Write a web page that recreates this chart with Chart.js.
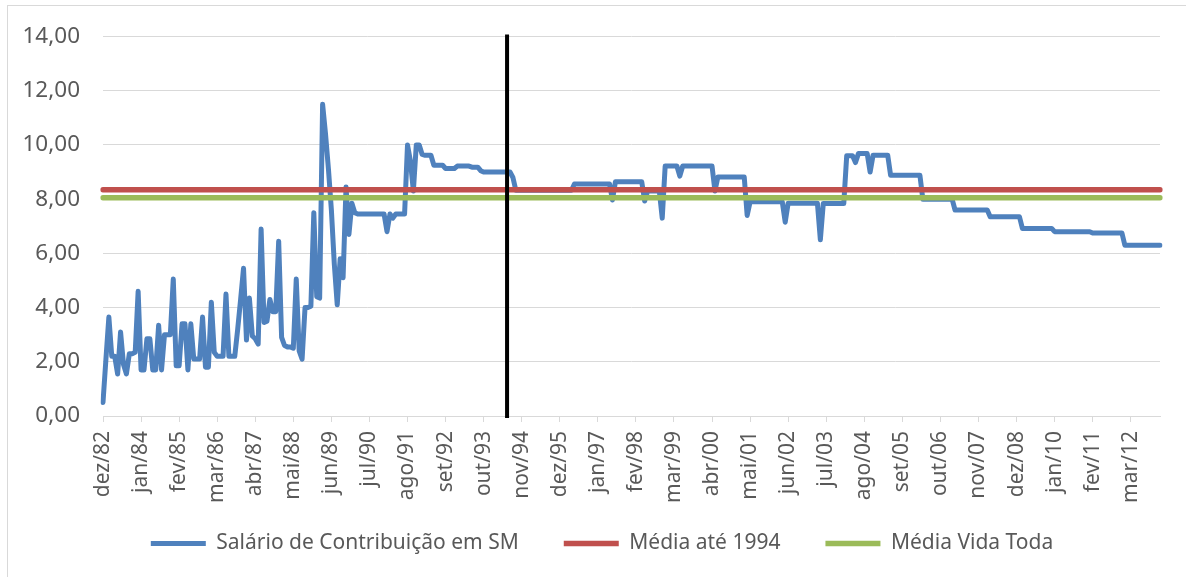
<!DOCTYPE html>
<html>
<head>
<meta charset="utf-8">
<script src="https://cdn.jsdelivr.net/npm/chart.js@4.4.0/dist/chart.umd.min.js"></script>
<style>
  html, body { margin: 0; padding: 0; background: #fff; }
  #wrap { position: relative; width: 1186px; height: 577px; overflow: hidden; }
  #frame { position: absolute; left: 7px; top: 5px; width: 1200px; height: 600px; border: 1px solid #d9d9d9; }
  canvas { position: absolute; left: 0; top: 0; }
</style>
</head>
<body>
<div id="wrap">
  <div id="frame"></div>
  <canvas id="chart" width="1186" height="577"></canvas>
</div>
<script>
// Salario de contribuicao em salarios minimos, mensal, dez/82 a jan/13
const salario = [
  0.5,                                                                  // dez/82
  2.1, 3.65, 2.2, 2.2, 1.55, 3.1, 1.9, 1.55, 2.3, 2.3, 2.35, 4.6,       // 1983
  1.7, 1.7, 2.85, 2.85, 1.7, 1.7, 3.35, 1.7, 3.0, 3.0, 3.0, 5.05,       // 1984
  1.85, 1.85, 3.4, 3.4, 1.7, 3.4, 2.1, 2.1, 2.1, 3.65, 1.8, 1.8,        // 1985
  4.2, 2.35, 2.2, 2.2, 2.2, 4.5, 2.2, 2.2, 2.2, 3.2, 4.3, 5.45,         // 1986
  2.8, 4.35, 2.95, 2.85, 2.65, 6.9, 3.45, 3.5, 4.3, 3.85, 3.85, 6.45,   // 1987
  2.9, 2.6, 2.55, 2.55, 2.5, 5.05, 2.4, 2.1, 4.0, 4.0, 4.05, 7.5,       // 1988
  4.4, 4.35, 11.5, 10.4, 9.1, 7.6, 5.6, 4.1, 5.8, 5.1, 8.45, 6.7,       // 1989
  7.85, 7.5, 7.45, 7.45, 7.45, 7.45, 7.45, 7.45, 7.45, 7.45, 7.45, 7.45, // 1990
  6.8, 7.45, 7.3, 7.45, 7.45, 7.45, 7.45, 10.0, 9.4, 8.3, 10.0, 10.0,   // 1991
  9.65, 9.62, 9.62, 9.62, 9.25, 9.25, 9.25, 9.25, 9.13, 9.13, 9.13, 9.13, // 1992
  9.22, 9.22, 9.22, 9.22, 9.22, 9.18, 9.18, 9.18, 9.05, 9.0, 9.0, 9.0,  // 1993
  9.0, 9.0, 9.0, 9.0, 9.0, 9.0, 9.0, 8.8, 8.33, 8.33, 8.33, 8.33,       // 1994
  8.33, 8.33, 8.33, 8.33, 8.33, 8.33, 8.33, 8.33, 8.33, 8.33, 8.33, 8.33, // 1995
  8.33, 8.33, 8.33, 8.33, 8.56, 8.56, 8.56, 8.56, 8.56, 8.56, 8.56, 8.56, // 1996
  8.56, 8.56, 8.56, 8.56, 8.56, 7.97, 8.64, 8.64, 8.64, 8.64, 8.64, 8.64, // 1997
  8.64, 8.64, 8.64, 8.64, 7.93, 8.3, 8.3, 8.3, 8.3, 8.3, 7.3, 9.22,     // 1998
  9.22, 9.22, 9.22, 9.22, 8.85, 9.22, 9.22, 9.22, 9.22, 9.22, 9.22, 9.22, // 1999
  9.22, 9.22, 9.22, 9.22, 8.3, 8.82, 8.82, 8.82, 8.82, 8.82, 8.82, 8.82, // 2000
  8.82, 8.82, 8.82, 7.4, 7.9, 7.9, 7.9, 7.9, 7.9, 7.9, 7.9, 7.9,        // 2001
  7.9, 7.9, 7.9, 7.9, 7.15, 7.85, 7.85, 7.85, 7.85, 7.85, 7.85, 7.85,   // 2002
  7.85, 7.85, 7.85, 7.85, 6.5, 7.84, 7.84, 7.84, 7.84, 7.84, 7.84, 7.84, // 2003
  7.84, 9.6, 9.6, 9.6, 9.35, 9.68, 9.68, 9.68, 9.68, 9.0, 9.62, 9.62,   // 2004
  9.62, 9.62, 9.62, 9.62, 8.88, 8.88, 8.88, 8.88, 8.88, 8.88, 8.88, 8.88, // 2005
  8.88, 8.88, 8.88, 8.0, 8.0, 8.0, 8.0, 8.0, 8.0, 8.0, 8.0, 8.0,        // 2006
  8.0, 8.0, 7.6, 7.6, 7.6, 7.6, 7.6, 7.6, 7.6, 7.6, 7.6, 7.6,           // 2007
  7.6, 7.6, 7.35, 7.35, 7.35, 7.35, 7.35, 7.35, 7.35, 7.35, 7.35, 7.35, // 2008
  7.35, 6.92, 6.92, 6.92, 6.92, 6.92, 6.92, 6.92, 6.92, 6.92, 6.92, 6.92, // 2009
  6.8, 6.8, 6.8, 6.8, 6.8, 6.8, 6.8, 6.8, 6.8, 6.8, 6.8, 6.8,           // 2010
  6.8, 6.75, 6.75, 6.75, 6.75, 6.75, 6.75, 6.75, 6.75, 6.75, 6.75, 6.75, // 2011
  6.3, 6.3, 6.3, 6.3, 6.3, 6.3, 6.3, 6.3, 6.3, 6.3, 6.3, 6.3,           // 2012
  6.3                                                                   // jan/13
];

const mediaAte1994 = 8.35;
const mediaVidaToda = 8.05;

// rotulos que aparecem no eixo x (a cada 13 meses)
const tickLabels = [
  "dez/82", "jan/84", "fev/85", "mar/86", "abr/87", "mai/88", "jun/89",
  "jul/90", "ago/91", "set/92", "out/93", "nov/94", "dez/95", "jan/97",
  "fev/98", "mar/99", "abr/00", "mai/01", "jun/02", "jul/03", "ago/04",
  "set/05", "out/06", "nov/07", "dez/08", "jan/10", "fev/11", "mar/12"
];

// mes do corte (linha vertical preta)
const marcoPlano = "jun/94";

const meses = ["jan", "fev", "mar", "abr", "mai", "jun", "jul", "ago", "set", "out", "nov", "dez"];
const labels = salario.map((v, k) => {
  const m = (11 + k) % 12;
  const y = (82 + Math.floor((11 + k) / 12)) % 100;
  return meses[m] + "/" + String(y).padStart(2, "0");
});
const primeiro = labels[0];
const ultimo = labels[labels.length - 1];

const FONT = "'Noto Sans', 'DejaVu Sans', sans-serif";
const GREY_TEXT = "#595959";
const GRID = "#d9d9d9";

// Draws the black vertical marker line
const marcoPlugin = {
  id: "marco",
  afterDatasetsDraw(chart) {
    const { ctx, chartArea, scales } = chart;
    const px = scales.x.getPixelForValue(labels.indexOf(marcoPlano));
    ctx.save();
    ctx.strokeStyle = "#000";
    ctx.lineWidth = 4;
    ctx.beginPath();
    ctx.moveTo(px, chartArea.top - 2);
    ctx.lineTo(px, chartArea.bottom + 2);
    ctx.stroke();
    ctx.restore();
  }
};

// tick labels are wider than the scale boxes here, so don't clip them
const noClipPlugin = {
  id: "noClip",
  beforeDraw(chart) {
    Object.values(chart.scales).forEach(s => { s._computeLabelArea = () => undefined; });
  }
};

new Chart(document.getElementById("chart"), {
  type: "line",
  data: {
    labels,
    datasets: [
      {
        label: "Salário de Contribuição em SM",
        data: salario,
        borderColor: "#4f81bd",
        backgroundColor: "#4f81bd",
        borderWidth: 5,
        pointRadius: 0,
        borderCapStyle: "round",
        borderJoinStyle: "round",
        order: 3
      },
      {
        label: "Média até 1994",
        data: [{ x: primeiro, y: mediaAte1994 }, { x: ultimo, y: mediaAte1994 }],
        borderColor: "#c0504d",
        backgroundColor: "#c0504d",
        borderWidth: 5.5,
        pointRadius: 0,
        borderCapStyle: "round",
        order: 2
      },
      {
        label: "Média Vida Toda",
        data: [{ x: primeiro, y: mediaVidaToda }, { x: ultimo, y: mediaVidaToda }],
        borderColor: "#9bbb59",
        backgroundColor: "#9bbb59",
        borderWidth: 5.5,
        pointRadius: 0,
        borderCapStyle: "round",
        order: 1
      }
    ]
  },
  options: {
    responsive: false,
    animation: false,
    events: [],
    layout: { padding: { left: 44, right: 26, top: 34, bottom: 13 } },
    scales: {
      x: {
        type: "category",
        offset: false,
        afterFit: s => { s.height = 72; },
        grid: { drawOnChartArea: false, color: GRID, tickLength: 6 },
        border: { color: GRID, width: 1 },
        ticks: {
          autoSkip: false,
          maxRotation: 90,
          minRotation: 90,
          padding: 9,
          color: GREY_TEXT,
          font: { family: FONT, size: 21 },
          callback: function (val, idx) {
            const l = labels[idx];
            return tickLabels.includes(l) ? l : null;
          }
        }
      },
      y: {
        min: 0,
        max: 14,
        afterFit: s => { s.width = 59; },
        grid: { color: GRID, drawTicks: false },
        border: { display: false },
        ticks: {
          stepSize: 2,
          padding: 23,
          color: GREY_TEXT,
          font: { family: FONT, size: 22.5 },
          callback: v => v.toFixed(2).replace(".", ",")
        }
      }
    },
    plugins: {
      tooltip: { enabled: false },
      legend: {
        position: "bottom",
        labels: {
          usePointStyle: true,
          pointStyle: "line",
          pointStyleWidth: 55,
          padding: 45,
          color: GREY_TEXT,
          font: { family: FONT, size: 21 },
          sort: (a, b) => a.datasetIndex - b.datasetIndex
        }
      }
    }
  },
  plugins: [marcoPlugin, noClipPlugin]
});
</script>
</body>
</html>
